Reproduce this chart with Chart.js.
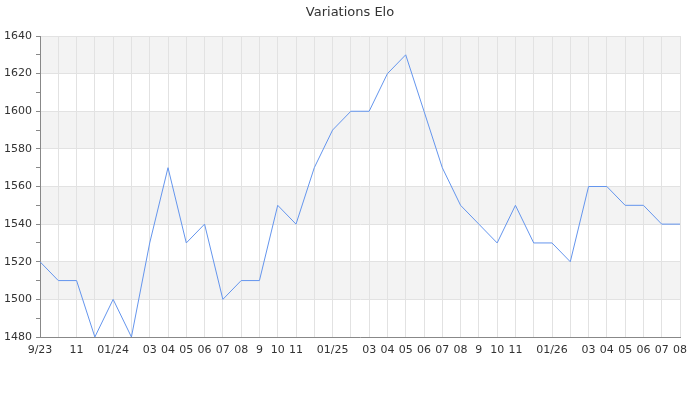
<!DOCTYPE html>
<html>
<head>
<meta charset="utf-8">
<script src="https://cdn.jsdelivr.net/npm/chart.js@4"></script>
<style>
  html, body { margin: 0; padding: 0; background: #ffffff; }
  #wrap { width: 700px; height: 400px; }
</style>
</head>
<body>
<div id="wrap"><canvas id="c" width="700" height="400"></canvas></div>
<script>
const months = ["2023-09","2023-10","2023-11","2023-12","2024-01","2024-02","2024-03","2024-04","2024-05","2024-06","2024-07","2024-08","2024-09","2024-10","2024-11","2024-12","2025-01","2025-02","2025-03","2025-04","2025-05","2025-06","2025-07","2025-08","2025-09","2025-10","2025-11","2025-12","2026-01","2026-02","2026-03","2026-04","2026-05","2026-06","2026-07","2026-08"];
const tickLabels = ["9/23","","11","","01/24","","03","04","05","06","07","08","9","10","11","","01/25","","03","04","05","06","07","08","9","10","11","","01/26","","03","04","05","06","07","08"];
const elo = [1520,1510,1510,1480,1500,1480,1530,1570,1530,1540,1500,1510,1510,1550,1540,1570,1590,1600,1600,1620,1630,1600,1570,1550,1540,1530,1550,1530,1530,1520,1560,1560,1550,1550,1540,1540];
const yMin = 1480, yMax = 1640, yMajor = 20, yMinor = 10;

const bandsPlugin = {
  id: 'bands',
  beforeDraw(chart) {
    const {ctx, chartArea, scales} = chart;
    const y = scales.y;
    ctx.save();
    ctx.fillStyle = '#f3f3f3';
    let i = 0;
    for (let v = yMin; v < yMax; v += yMajor, i++) {
      if (i % 2 === 1) {
        const top = y.getPixelForValue(v + yMajor);
        const bot = y.getPixelForValue(v);
        ctx.fillRect(chartArea.left, top, chartArea.right - chartArea.left, bot - top);
      }
    }
    ctx.restore();
  }
};

new Chart(document.getElementById('c'), {
  type: 'line',
  data: {
    labels: months,
    datasets: [{
      data: elo,
      borderColor: '#6495ED',
      borderWidth: 1,
      pointRadius: 0,
      tension: 0,
      fill: false
    }]
  },
  options: {
    responsive: false,
    devicePixelRatio: 1,
    animation: false,
    layout: { padding: { top: 0, right: 0, bottom: 0, left: 0 } },
    plugins: {
      legend: { display: false },
      tooltip: { enabled: false },
      title: {
        display: true,
        text: 'Variations Elo',
        color: '#333333',
        font: { family: 'DejaVu Sans', size: 13, weight: 'normal' },
        padding: { top: 4.5, bottom: 15.9 }
      }
    },
    scales: {
      x: {
        type: 'category',
        offset: false,
        grid: { color: '#e2e2e2', drawTicks: false, lineWidth: 1 },
        border: { color: '#888888', width: 1 },
        ticks: {
          autoSkip: false,
          maxRotation: 0,
          minRotation: 0,
          padding: 7,
          color: '#333333',
          font: { family: 'DejaVu Sans', size: 11 },
          callback: (v, i) => tickLabels[i]
        },
        afterFit(s) { s.height = 63; s.paddingLeft = 0; s.paddingRight = 0; }
      },
      y: {
        min: yMin,
        max: yMax,
        grid: {
          color: (c) => (c.tick && c.tick.value % yMajor === 0) ? '#e2e2e2' : 'rgba(0,0,0,0)',
          tickColor: '#888888',
          tickLength: 4,
          drawTicks: true,
          lineWidth: 1
        },
        border: { color: '#888888', width: 1 },
        ticks: {
          stepSize: yMinor,
          padding: 4,
          color: '#333333',
          font: { family: 'DejaVu Sans', size: 11 },
          callback: (v) => (v % yMajor === 0) ? String(v) : ''
        },
        afterFit(s) { s.width = 40; }
      },
      yRight: {
        display: true,
        position: 'right',
        min: yMin,
        max: yMax,
        grid: { display: false, drawOnChartArea: false },
        border: { display: false },
        ticks: { display: false },
        afterFit(s) { s.width = 20; }
      }
    }
  },
  plugins: [bandsPlugin]
});
</script>
</body>
</html>
